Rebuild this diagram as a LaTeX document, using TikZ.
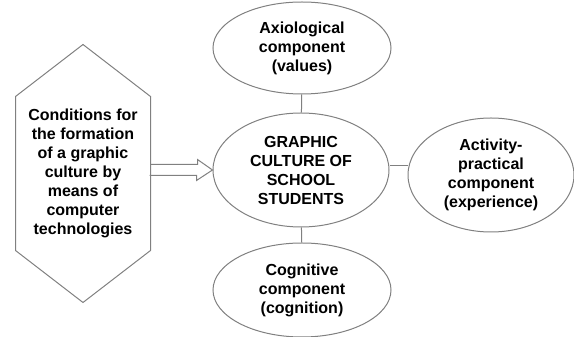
\documentclass[tikz,border=0pt]{standalone}
\usepackage{fontspec}
\setmainfont{Liberation Sans}
\usetikzlibrary{shapes.geometric,calc}
\tikzset{
    component/.style = {
        shape = ellipse,
        align = center,
        draw  = #1,
        fill  = white,
        inner sep = 0pt,
        minimum width=178pt,
        minimum height=92pt
    },
    condition/.style = {
        shape = rectangle,
        align = center,
        inner sep = 0pt,
        minimum width=134pt,
        minimum height=153pt
    },
    link/.style = {
        draw = #1,
        line width = 1pt
    }
}

\begin{document}
\begin{tikzpicture}[x=1pt, y=1pt, line width=1pt, nodes = {align = center, font=\fontsize{16}{19}\selectfont\bfseries}]
      \useasboundingbox (0,0) rectangle (574,337);

      \node (cond) at (83, 163.5) [condition] {Conditions for\\the formation\\of a graphic\\culture by\\means of\\computer\\technologies};
      \draw [link = gray] (cond.north west) -- ($(cond.north)+(0,52)$) -- (cond.north east)
            -- (cond.south east) -- ($(cond.south)-(0,52)$) -- (cond.south west) -- cycle;

      \node (core) at (301, 167) [component = gray, minimum width=176pt, minimum height=114pt] {GRAPHIC\\CULTURE OF\\SCHOOL\\STUDENTS};
      \node (axio) at (302, 289) [component = gray] {Axiological\\component\\(values)};
      \node (act)  at (491, 162) [component = gray, minimum width=166pt, minimum height=114pt] {Activity-\\practical\\component\\(experience)};
      \node (cogn) at (302, 47)  [component = gray, minimum height=94pt] {Cognitive\\component\\(cognition)};

      % hollow block arrow into the core
      \draw [link = gray] (cond.east |- core.west) ++(0,5.5) -- ++(47,0) -- ++(0,5)
            -- (core.west) -- ++(-16,-10.5) -- ++(0,5) -- ++(-47,0);

      \draw [link = gray] (axio) -- (core);
      \draw [link = gray] (cogn) -- (core);
      \draw [link = gray] ([yshift=4pt]core.east) -- ([yshift=4pt]core.east -| act.west);
\end{tikzpicture}
\end{document}
